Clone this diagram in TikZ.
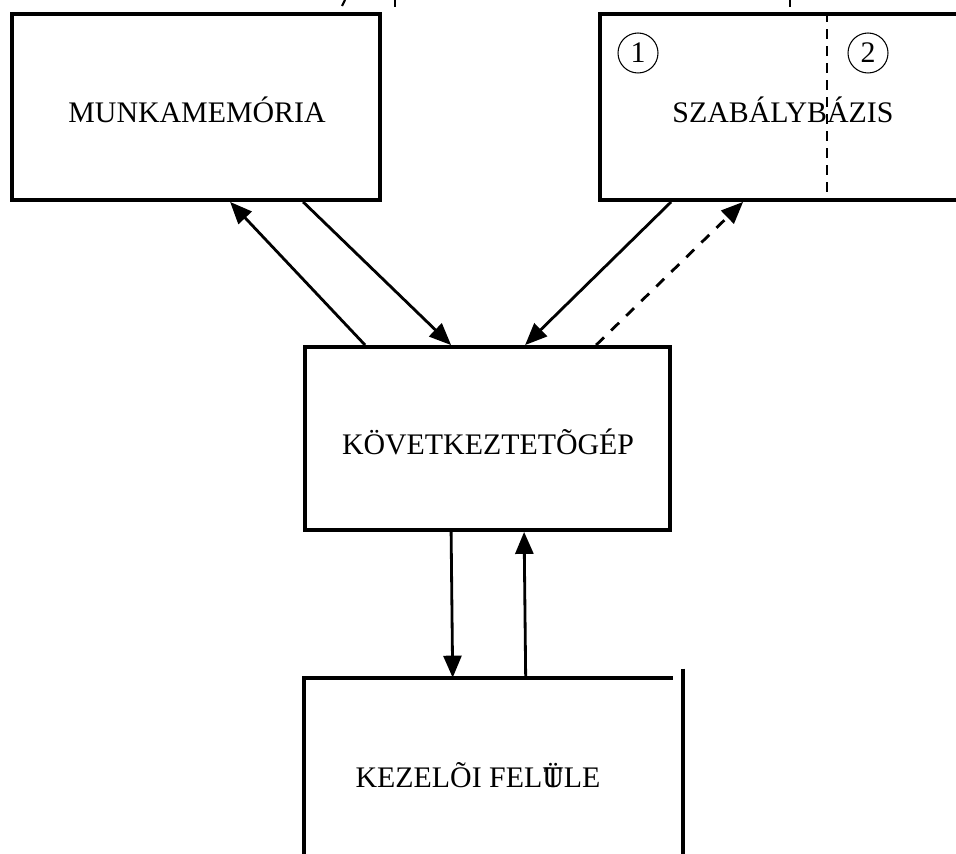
\documentclass[tikz,border=0pt]{standalone}
\usepackage{fontspec}
\setmainfont{Liberation Serif}
\usetikzlibrary{calc,arrows.meta}

\begin{document}
\begin{tikzpicture}[
    x=0.02cm, y=-0.02cm,
    font=\fontsize{17}{20}\selectfont,
    box/.style={draw=black, line width=2.2pt, rectangle, inner sep=0pt},
    arr/.style={draw=black, line width=1.6pt, -{Triangle[length=0.44cm,width=0.36cm]}},
    dashline/.style={draw=black, line width=1.4pt, dash pattern=on 0.2cm off 0.14cm},
    num/.style={draw=black, line width=0.6pt, circle, inner sep=0pt, minimum size=0.8cm}
]
\useasboundingbox (0,0) rectangle (956,854);
\clip (0,0) rectangle (956,854);

% Cut-off text above the picture.
\draw[line width=1.2pt] (345,0) -- (342,6);
\draw[line width=1.2pt] (395,0) -- (395,7);
\draw[line width=1.2pt] (790,0) -- (790,7);

% Upper boxes.
\node[box, minimum width=7.36cm, minimum height=3.72cm] (mem) at (196,107) {};
\node (memlab) at (197,110) {MUNKAMEMÓRIA};
\node[box, minimum width=7.32cm, minimum height=3.72cm] (szab) at (783,107) {};
\node (szablab) at (783,110) {SZABÁLYBÁZIS};
\draw[dashline] ($(szab.north west)+(229,0)$) -- ($(szab.south west)+(229,0)$);
\node[num] (c1) at (638,53) {1};
\node[num] (c2) at (868,53) {2};

% Inference engine.
\node[box, minimum width=7.30cm, minimum height=3.66cm] (kov) at (487.5,438.5) {};
\node (kovlab) at (488,442) {KÖVETKEZTETÕGÉP};

% User interface, drawn open.
\node[minimum width=7.38cm, minimum height=4.4cm, inner sep=0pt] (kez) at (488.5,788) {};
\draw[line width=2.2pt] (kez.south west) -- (kez.north west) -- (kez.north east);
\draw[line width=2.2pt] ($(kez.north east)+(10,-9)$) -- ($(kez.south east)+(10,0)$);
\node (kezlab) at (478,775) {KEZELÕI FEL\ooalign{\hfil T\hfil\cr Ü}LE};

% Connectors.
\draw[arr] ($(kov.north west)+(62,0)$) -- ($(mem.south west)+(220,0)$);
\draw[arr] ($(mem.south west)+(293,0)$) -- ($(kov.north west)+(148,0)$);
\draw[arr] ($(szab.south west)+(73,0)$) -- ($(kov.north west)+(222,0)$);
\draw[arr, dash pattern=on 0.22cm off 0.2cm] ($(kov.north west)+(293,0)$) -- ($(szab.south west)+(145,0)$);
\draw[arr] ($(kov.south west)+(148,0)$) -- ($(kez.north west)+(149,0)$);
\draw[arr] ($(kez.north west)+(222,0)$) -- ($(kov.south west)+(221,0)$);
\end{tikzpicture}
\end{document}
